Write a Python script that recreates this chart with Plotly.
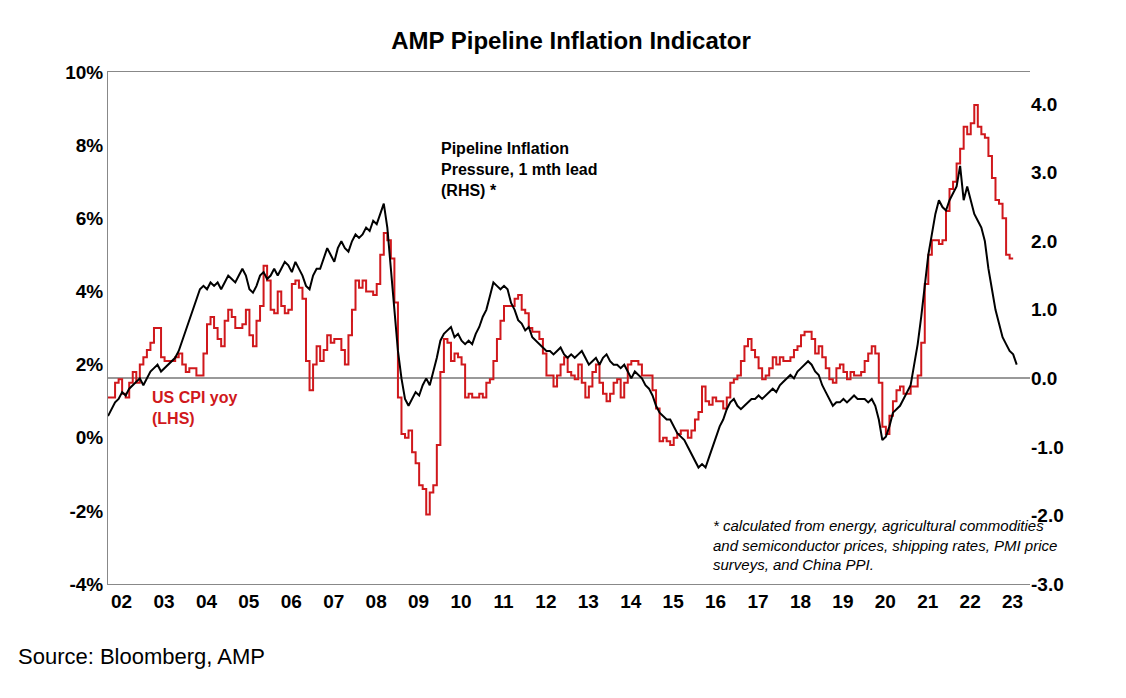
import plotly.graph_objects as go

cpi = [1.1,1.1,1.5,1.6,1.2,1.1,1.5,1.8,1.5,2.0,2.2,2.4,
2.6,3.0,3.0,2.2,2.1,2.1,2.1,2.2,2.3,2.0,1.8,1.9,
1.9,1.7,1.7,2.3,3.1,3.3,3.0,2.7,2.5,3.2,3.5,3.3,
3.0,3.0,3.1,3.5,2.8,2.5,3.2,3.6,4.7,4.3,3.5,3.4,
4.0,3.6,3.4,3.5,4.2,4.3,4.1,3.8,2.1,1.3,2.0,2.5,
2.1,2.4,2.8,2.6,2.7,2.7,2.4,2.0,2.8,3.5,4.3,4.1,
4.3,4.0,4.0,3.9,4.2,5.0,5.6,5.4,4.9,3.7,1.1,0.1,
0.0,0.2,-0.4,-0.7,-1.3,-1.4,-2.1,-1.5,-1.3,-0.2,1.8,2.7,
2.6,2.1,2.3,2.2,2.0,1.1,1.2,1.1,1.1,1.2,1.1,1.5,
1.6,2.1,2.7,3.2,3.6,3.6,3.6,3.8,3.9,3.5,3.4,3.0,
2.9,2.9,2.7,2.3,1.7,1.7,1.4,1.7,2.0,2.2,1.8,1.7,
1.6,2.0,1.5,1.1,1.4,1.8,2.0,1.5,1.2,1.0,1.2,1.5,
1.6,1.1,1.5,2.0,2.1,2.1,2.0,1.7,1.7,1.7,1.3,0.8,
-0.1,0.0,-0.1,-0.2,0.0,0.1,0.2,0.2,0.0,0.2,0.5,0.7,
1.4,1.0,0.9,1.1,1.0,1.0,0.8,1.1,1.5,1.6,1.7,2.1,
2.5,2.7,2.4,2.2,1.9,1.6,1.7,1.9,2.2,2.0,2.2,2.1,
2.1,2.2,2.4,2.5,2.8,2.9,2.9,2.7,2.3,2.5,2.2,1.9,
1.6,1.5,1.9,2.0,1.8,1.6,1.8,1.7,1.7,1.8,2.1,2.3,
2.5,2.3,1.5,0.3,0.1,0.6,1.0,1.3,1.4,1.2,1.2,1.4,
1.4,1.7,2.6,4.2,5.0,5.4,5.4,5.3,5.4,6.2,6.8,7.0,
7.5,7.9,8.5,8.3,8.6,9.1,8.5,8.3,8.2,7.7,7.1,6.5,
6.4,6.0,5.0,4.9,4.9]
cpi_x = [2002 + i/12 for i in range(len(cpi))]

pipe = [-0.55,-0.45,-0.35,-0.3,-0.2,-0.25,-0.15,-0.1,-0.05,0.0,-0.1,0.0,
0.1,0.15,0.2,0.1,0.15,0.2,0.25,0.3,0.4,0.55,0.7,0.85,
1.0,1.15,1.3,1.35,1.3,1.4,1.35,1.4,1.3,1.4,1.5,1.45,
1.4,1.5,1.6,1.5,1.3,1.25,1.35,1.5,1.55,1.45,1.5,1.6,
1.5,1.6,1.7,1.65,1.55,1.7,1.6,1.5,1.35,1.3,1.5,1.6,
1.6,1.75,1.9,1.8,1.7,1.9,2.0,1.9,1.85,2.0,2.1,2.05,
2.1,2.2,2.15,2.3,2.25,2.4,2.55,2.2,1.6,1.0,0.4,0.0,
-0.3,-0.4,-0.3,-0.2,-0.25,-0.1,0.0,-0.1,0.1,0.3,0.55,0.65,
0.7,0.75,0.6,0.65,0.55,0.5,0.55,0.5,0.65,0.75,0.9,1.0,
1.2,1.4,1.35,1.3,1.35,1.3,1.1,1.0,0.85,0.8,0.7,0.75,
0.6,0.55,0.5,0.45,0.4,0.4,0.35,0.4,0.45,0.35,0.3,0.35,
0.3,0.35,0.4,0.3,0.2,0.25,0.3,0.2,0.3,0.35,0.25,0.2,
0.2,0.15,0.2,0.1,0.0,0.1,0.05,0.0,-0.1,-0.15,-0.25,-0.4,
-0.5,-0.55,-0.6,-0.6,-0.7,-0.8,-0.85,-0.9,-1.0,-1.1,-1.2,-1.3,
-1.25,-1.3,-1.15,-1.0,-0.85,-0.7,-0.6,-0.45,-0.35,-0.3,-0.4,-0.45,
-0.4,-0.35,-0.3,-0.3,-0.25,-0.3,-0.25,-0.2,-0.15,-0.2,-0.1,-0.05,
0.0,0.05,0.0,0.1,0.15,0.2,0.25,0.2,0.1,0.05,-0.1,-0.2,
-0.3,-0.4,-0.35,-0.35,-0.3,-0.35,-0.3,-0.25,-0.3,-0.3,-0.3,-0.35,
-0.3,-0.4,-0.6,-0.9,-0.85,-0.7,-0.5,-0.45,-0.4,-0.3,-0.2,-0.1,
0.2,0.5,0.9,1.4,1.8,2.1,2.4,2.6,2.5,2.45,2.6,2.7,
2.8,3.1,2.6,2.8,2.6,2.4,2.3,2.2,2.0,1.6,1.3,1.0,
0.8,0.6,0.5,0.4,0.35,0.2]
pipe_x = [2002 + i/12 for i in range(len(pipe))]

years = list(range(2002, 2024))
year_labels = [f"{y % 100:02d}" for y in years]
left_ticks = [-4, -2, 0, 2, 4, 6, 8, 10]
left_labels = ["-4%", "-2%", "0%", "2%", "4%", "6%", "8%", "10%"]
right_ticks = [-3, -2, -1, 0, 1, 2, 3, 4]
right_labels = ["-3.0", "-2.0", "-1.0", "0.0", "1.0", "2.0", "3.0", "4.0"]

fig = go.Figure()
fig.add_trace(go.Scatter(x=cpi_x, y=cpi, mode="lines", line=dict(color="#d0181c", width=2, shape="hv"), yaxis="y"))
fig.add_trace(go.Scatter(x=pipe_x, y=pipe, mode="lines", line=dict(color="#000000", width=2), yaxis="y2"))

font = "Liberation Sans, Arial, sans-serif"
fig.update_layout(
    width=1126, height=698, showlegend=False,
    paper_bgcolor="white", plot_bgcolor="white",
    margin=dict(l=100, r=104, t=64, b=122),
    font=dict(family=font, size=18, color="black"),
    title=dict(text="<b>AMP Pipeline Inflation Indicator</b>", x=0.5, xanchor="center", y=0.965, font=dict(size=24)),
    xaxis=dict(range=[2002, 2023.73], tickvals=[y + 0.32 for y in years], ticktext=[f"<b>{t}</b>" for t in year_labels],
               showgrid=False, showline=True, linecolor="#888", mirror=True, ticks="",
               tickfont=dict(size=19, family=font)),
    yaxis=dict(range=[-4, 10], tickvals=left_ticks, ticktext=[f"<b>{t}</b>" for t in left_labels],
               showgrid=False, zeroline=False, showline=True, linecolor="#888", tickfont=dict(size=19)),
    yaxis2=dict(range=[-3, 4.47], overlaying="y", side="right", tickvals=right_ticks,
                ticktext=[f"<b>{t}</b>" for t in right_labels], showgrid=False,
                zeroline=True, zerolinecolor="#999", zerolinewidth=1.5, tickfont=dict(size=19)),
    annotations=[
        dict(text="<b>Pipeline Inflation<br>Pressure, 1 mth lead<br>(RHS) *</b>", x=2009.8, y=3.5, xref="x", yref="y2",
             showarrow=False, align="left", xanchor="left", yanchor="top", font=dict(size=16)),
        dict(text="<b>US CPI yoy<br>(LHS)</b>", x=2003.0, y=1.4, xref="x", yref="y", showarrow=False,
             align="left", xanchor="left", yanchor="top", font=dict(size=16, color="#d0181c")),
        dict(text="<i>* calculated from energy, agricultural commodities<br>and semiconductor prices, shipping rates, PMI price<br>surveys, and China PPI.</i>",
             x=2016.2, y=-2.1, xref="x", yref="y", showarrow=False, align="left", xanchor="left", yanchor="top",
             font=dict(size=15)),
        dict(text="Source: Bloomberg, AMP", x=0.0, y=0.0, xref="paper", yref="paper", showarrow=False,
             xanchor="left", yanchor="top", font=dict(size=22), xshift=-92, yshift=-58),
    ],
)
fig.write_html("out.html")
